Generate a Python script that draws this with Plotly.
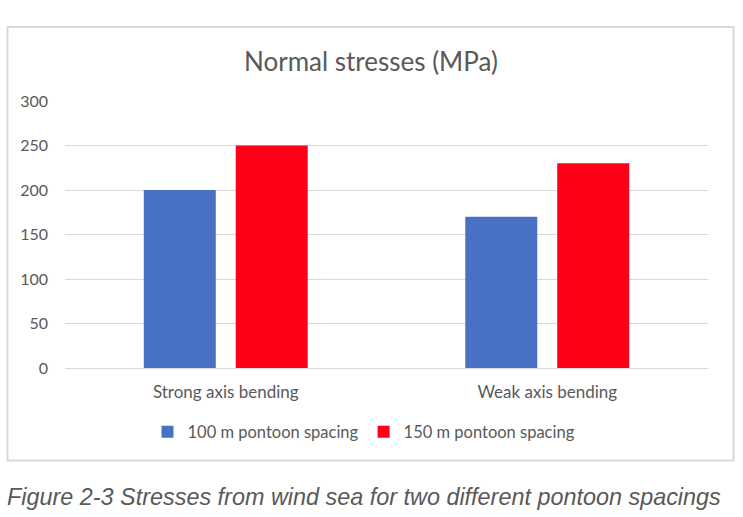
import plotly.graph_objects as go

categories = ["Strong axis bending", "Weak axis bending"]
series_names = ["100 m pontoon spacing", "150 m pontoon spacing"]
values_100 = [200, 170]
values_150 = [250, 230]
colors = ["#4870C3", "#FF0018"]
title_text = "Normal stresses (MPa)"
caption_text = "Figure 2-3 Stresses from wind sea for two different pontoon spacings"

W, H = 743, 517
L, R, T, B = 65, 35, 101, 149
pw, ph = W - L - R, H - T - B

def px_x(x):
    return (x - L) / pw

def px_y(y):
    return (H - B - y) / ph

font_family = "Lato, 'Open Sans', sans-serif"
grey = "#595959"

fig = go.Figure()
for name, vals, col in zip(series_names, [values_100, values_150], colors):
    fig.add_trace(go.Bar(x=categories, y=vals, name=name, marker=dict(color=col, line=dict(width=0))))

fig.update_layout(
    width=W, height=H,
    margin=dict(l=L, r=R, t=T, b=B),
    paper_bgcolor="white", plot_bgcolor="white",
    barmode="group", bargap=0.428, bargroupgap=0.217,
    font=dict(family=font_family, color=grey, size=16),
    showlegend=True,
    legend=dict(orientation="h", x=px_x(364), xanchor="center", y=px_y(432), yanchor="middle",
                font=dict(size=16.5, color=grey, family=font_family), itemwidth=30,
                bgcolor="rgba(0,0,0,0)"),
    xaxis=dict(showgrid=False, showline=False, ticks="", tickfont=dict(size=17, color=grey),
               ticklabelstandoff=12),
    yaxis=dict(range=[0, 300], dtick=50, showgrid=True, gridcolor="#d9d9d9", gridwidth=1,
               zeroline=True, zerolinecolor="#d9d9d9", zerolinewidth=1, showline=False, ticks="",
               tickfont=dict(size=16, color=grey), ticklabelstandoff=16),
    shapes=[dict(type="rect", xref="paper", yref="paper",
                 x0=px_x(7.5), x1=px_x(733.5), y0=px_y(460.5), y1=px_y(27),
                 line=dict(color="#d9d9d9", width=2), fillcolor="rgba(0,0,0,0)", layer="below")],
    annotations=[
        dict(text=title_text, xref="paper", yref="paper", x=px_x(371), y=px_y(61),
             xanchor="center", yanchor="middle", showarrow=False,
             font=dict(size=26, color=grey, family=font_family)),
        dict(text="<i>" + caption_text + "</i>", xref="paper", yref="paper", x=px_x(5), y=px_y(497),
             xanchor="left", yanchor="middle", showarrow=False,
             font=dict(size=23.4, color=grey, family="'Liberation Sans', Arial, sans-serif")),
    ],
)

fig.write_html("out.html", config={"displayModeBar": False},
               post_script="document.body.style.margin='0';")
